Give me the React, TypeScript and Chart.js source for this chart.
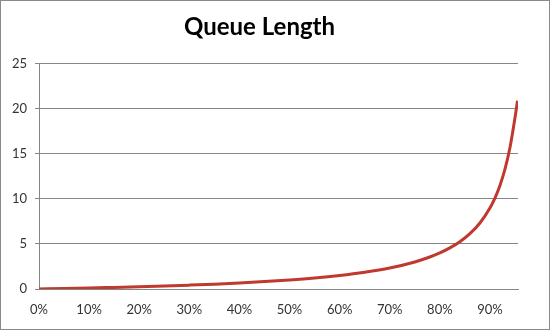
import React, { useEffect, useRef } from "react";
import { Chart, registerables } from "chart.js";

Chart.register(...registerables);

const TITLE = "Queue Length";
// utilization (x) and queue length (y)
const utilization = [0, 0.05, 0.1, 0.15, 0.2, 0.25, 0.3, 0.35, 0.4, 0.45, 0.5, 0.55, 0.6, 0.65, 0.7, 0.75, 0.78, 0.8, 0.82, 0.84, 0.86, 0.88, 0.9, 0.91, 0.92, 0.93, 0.94, 0.95, 0.955];
const queueLength = [0, 0.05, 0.11, 0.18, 0.25, 0.33, 0.43, 0.54, 0.67, 0.82, 1.0, 1.22, 1.5, 1.86, 2.33, 3.0, 3.55, 4.0, 4.56, 5.25, 6.14, 7.33, 9.0, 10.1, 11.5, 13.3, 15.7, 19.0, 20.9];
const yTicks = [0, 5, 10, 15, 20, 25];
const xTicks = [0, 0.1, 0.2, 0.3, 0.4, 0.5, 0.6, 0.7, 0.8, 0.9];

export default function App() {
  const ref = useRef<HTMLCanvasElement>(null);
  useEffect(() => {
    document.body.style.margin = "0";
    const chart = new Chart(ref.current!, {
      type: "line",
      data: {
        datasets: [
          {
            data: utilization.map((x, i) => ({ x, y: queueLength[i] })),
            borderColor: "#C0392F",
            borderWidth: 3,
            pointRadius: 0,
            cubicInterpolationMode: "monotone",
            fill: false,
          },
        ],
      },
      options: {
        animation: false,
        responsive: false,
        layout: { padding: { left: 0, right: 31, top: 0, bottom: 0 } },
        plugins: {
          legend: { display: false },
          tooltip: { enabled: false },
          title: {
            display: true,
            text: TITLE,
            color: "#000",
            font: { family: "Lato", size: 24, weight: "bold", lineHeight: 1.2 },
            padding: { top: 12, bottom: 22 },
          },
        },
        scales: {
          x: {
            type: "linear",
            min: 0,
            max: 0.956,
            afterBuildTicks: (s: any) => {
              s.ticks = xTicks.map((v) => ({ value: v }));
            },
            afterFit: (s: any) => {
              s.height = 40;
            },
            grid: { display: false, drawTicks: true, tickLength: 5, color: "#868686" },
            border: { display: true, color: "#868686", width: 1 },
            ticks: {
              color: "#333",
              font: { family: "Lato", size: 13 },
              padding: 8,
              maxRotation: 0,
              autoSkip: false,
              callback: (v: any) => Math.round(Number(v) * 100) + "%",
            },
          },
          y: {
            min: 0,
            max: 25,
            afterBuildTicks: (s: any) => {
              s.ticks = yTicks.map((v) => ({ value: v }));
            },
            afterFit: (s: any) => {
              s.width = 38;
            },
            grid: { color: "#868686", lineWidth: 1, tickLength: 4 },
            border: { display: true, color: "#868686", width: 1 },
            ticks: {
              color: "#333",
              font: { family: "Lato", size: 13 },
              padding: 8,
            },
          },
        },
      },
    });
    return () => chart.destroy();
  }, []);
  return (
    <div
      style={{
        position: "fixed",
        left: 0,
        top: 0,
        width: 550,
        height: 330,
        boxSizing: "border-box",
        border: "1px solid #8a8a8a",
        background: "#fff",
      }}
    >
      <canvas ref={ref} width={548} height={328} />
    </div>
  );
}
